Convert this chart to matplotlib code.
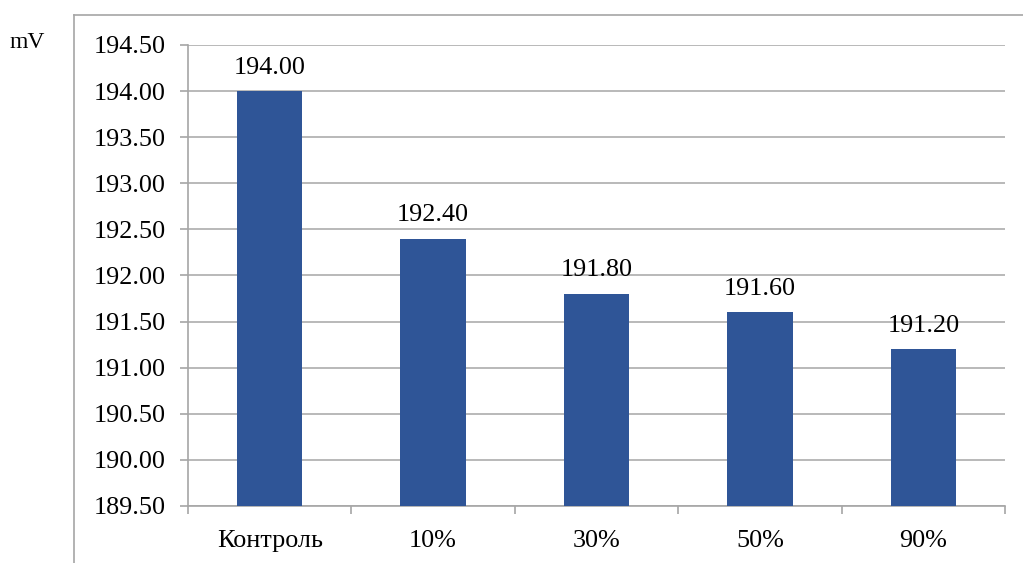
import matplotlib
matplotlib.use("Agg")
import matplotlib.pyplot as plt
from matplotlib.lines import Line2D
import numpy as np

categories = ["Контроль", "10%", "30%", "50%", "90%"]
values = [194.00, 192.40, 191.80, 191.60, 191.20]
y_ticks = [189.5, 190.0, 190.5, 191.0, 191.5, 192.0, 192.5, 193.0, 193.5, 194.0, 194.5]
unit_label = "mV"

plt.rcParams['font.family'] = ['Liberation Serif', 'DejaVu Serif']
FS = 18.8
W, H = 1023, 563
fig = plt.figure(figsize=(W / 100, H / 100), dpi=100)

ax_l, ax_r, ax_t, ax_b = 188, 1005, 45, 506
ax = fig.add_axes([ax_l / W, 1 - ax_b / H, (ax_r - ax_l) / W, (ax_b - ax_t) / H])

grid_col = "#a6a6a6"
bar_col = "#2F5597"
x = np.arange(len(categories))
ax.bar(x, values, width=0.4, color=bar_col, bottom=0, zorder=3)
ax.set_xlim(-0.5, len(categories) - 0.5)
ax.set_ylim(y_ticks[0], y_ticks[-1])
ax.set_yticks(y_ticks)
ax.set_yticklabels([f"{v:.2f}" for v in y_ticks], fontsize=FS)
ax.set_xticks(x)
ax.set_xticklabels(categories, fontsize=FS)
ax.set_xticks(np.arange(-0.5, len(categories), 1.0), minor=True)
ax.tick_params(axis='x', which='major', length=0, pad=17)
ax.tick_params(axis='x', which='minor', length=6, color=grid_col, width=1.2)
ax.tick_params(axis='y', length=6, color=grid_col, width=1.2, pad=10)
ax.yaxis.grid(True, color=grid_col, linewidth=1.1, zorder=0)
for s in ["top", "right"]:
    ax.spines[s].set_visible(False)
for s in ["left", "bottom"]:
    ax.spines[s].set_color(grid_col)
    ax.spines[s].set_linewidth(1.2)
ax.set_axisbelow(True)

for xi, v in zip(x, values):
    ax.annotate(f"{v:.2f}", (xi, v), xytext=(0, 9), textcoords="offset points",
                ha="center", va="bottom", fontsize=FS)

fig.text(9 / W, 1 - 43 / H, unit_label, fontsize=17, ha="left", va="center")

fig.add_artist(Line2D([74 / W, 74 / W], [0, 1 - 15 / H], transform=fig.transFigure,
                      color=grid_col, linewidth=1.2))
fig.add_artist(Line2D([74 / W, 1], [1 - 15 / H, 1 - 15 / H], transform=fig.transFigure,
                      color=grid_col, linewidth=1.2))

fig.savefig("out.png", dpi=100)
